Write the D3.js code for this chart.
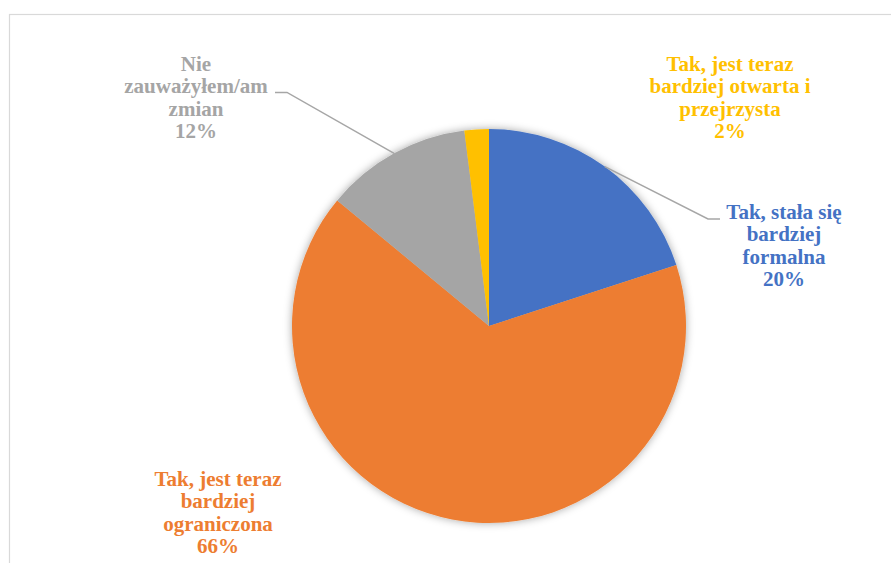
<!DOCTYPE html>
<html>
<head>
<meta charset="utf-8">
<script src="https://cdn.jsdelivr.net/npm/d3@7"></script>
<style>
  html, body { margin: 0; padding: 0; background: #fff; }
  svg { display: block; }
</style>
</head>
<body>
<svg id="chart" width="891" height="563"></svg>
<script>
// Survey answers, in drawing order (clockwise from 12 o'clock)
const categories = [
  ["Tak, stała się", "bardziej", "formalna"],
  ["Tak, jest teraz", "bardziej", "ograniczona"],
  ["Nie", "zauważyłem/am", "zmian"],
  ["Tak, jest teraz", "bardziej otwarta i", "przejrzysta"]
];
const shares = [20, 66, 12, 2];
const percentLabels = ["20%", "66%", "12%", "2%"];
const sliceColors = ["#4472C4", "#ED7D31", "#A5A5A5", "#FFC000"];

// Where each label block sits (centre x, first baseline y) and its leader line, if any
const labelLayout = [
  { x: 784, y: 219, leader: "right" },
  { x: 218, y: 486, leader: null },
  { x: 196, y: 71, leader: "left" },
  { x: 730, y: 71, leader: null }
];

const cx = 489, cy = 326, radius = 197;
const lineStep = 22.4;

const svg = d3.select("#chart");

// Chart area frame
svg.append("rect")
  .attr("x", 9.5).attr("y", 14.5)
  .attr("width", 1000).attr("height", 1000)
  .attr("fill", "#fff")
  .attr("stroke", "#d9d9d9")
  .attr("stroke-width", 1.2);

// Soft shadow under the pie
const defs = svg.append("defs");
const f = defs.append("filter").attr("id", "pieShadow")
  .attr("x", "-20%").attr("y", "-20%").attr("width", "140%").attr("height", "140%");
f.append("feDropShadow")
  .attr("dx", 0).attr("dy", 0)
  .attr("stdDeviation", 4)
  .attr("flood-color", "#000")
  .attr("flood-opacity", 0.35);

const pie = d3.pie().sort(null).value(d => d)(shares);
const arc = d3.arc().innerRadius(0).outerRadius(radius);

const g = svg.append("g").attr("transform", `translate(${cx},${cy})`);

g.append("g").attr("filter", "url(#pieShadow)")
  .selectAll("path")
  .data(pie)
  .join("path")
  .attr("d", arc)
  .attr("fill", (d, i) => sliceColors[i]);

// Leader lines: from the middle of the slice's outer arc to the label
pie.forEach((d, i) => {
  const L = labelLayout[i];
  if (!L.leader) return;
  const mid = (d.startAngle + d.endAngle) / 2;
  const px = cx + radius * Math.sin(mid);
  const py = cy - radius * Math.cos(mid);
  let pts;
  if (L.leader === "left") {
    const yy = L.y + lineStep - 1;
    pts = [[275, yy], [287, yy], [px, py]];
  } else {
    const yy = L.y;
    pts = [[px, py], [708, yy], [720, yy]];
  }
  svg.append("path")
    .attr("d", d3.line()(pts))
    .attr("fill", "none")
    .attr("stroke", "#a6a6a6")
    .attr("stroke-width", 1.5);
});

// Data labels
pie.forEach((d, i) => {
  const L = labelLayout[i];
  const lines = categories[i].concat([percentLabels[i]]);
  const t = svg.append("text")
    .attr("text-anchor", "middle")
    .style("font-family", '"Liberation Serif"')
    .style("font-weight", "bold")
    .style("font-size", "21px")
    .attr("fill", sliceColors[i]);
  lines.forEach((s, k) => {
    t.append("tspan")
      .attr("x", L.x)
      .attr("y", L.y + k * lineStep)
      .text(s);
  });
});
</script>
</body>
</html>
